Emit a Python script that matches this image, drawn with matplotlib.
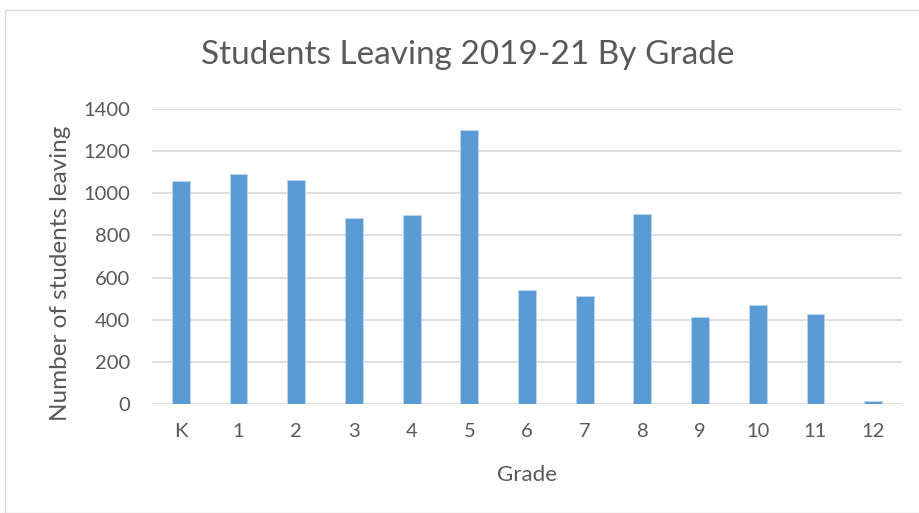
import numpy as np
import matplotlib.pyplot as plt
from matplotlib.patches import Rectangle

grades = ['K', '1', '2', '3', '4', '5', '6', '7', '8', '9', '10', '11', '12']
leaving = [1057, 1092, 1065, 881, 897, 1298, 543, 511, 900, 412, 470, 427, 13]
yticks = [0, 200, 400, 600, 800, 1000, 1200, 1400]

plt.rcParams['font.family'] = ['Lato', 'DejaVu Sans']
txt = '#595959'

fig = plt.figure(figsize=(9.2, 5.13), dpi=100)
# chart border
fig.patches.append(Rectangle((5/920, 0), 1, 1 - 10/513, transform=fig.transFigure,
                             fill=False, edgecolor='#d9d9d9', lw=1))
ax = fig.add_axes([152/920, 1 - 404/513, 750/920, 295/513])

x = np.arange(len(grades))
ax.bar(x, leaving, width=0.31, color='#5b9bd5', edgecolor='#bdd7ee', lw=0.6, zorder=3)
ax.set_xlim(-0.5, len(grades) - 0.5)
ax.set_ylim(0, 1400)
ax.set_yticks(yticks)
ax.set_xticks(x)
ax.set_xticklabels(grades)
ax.grid(axis='y', color='#d9d9d9', lw=1.2, zorder=0)
for s in ax.spines.values():
    s.set_visible(False)
ax.tick_params(length=0, colors=txt, labelsize=14.5)
ax.tick_params(axis='x', pad=14)
ax.tick_params(axis='y', pad=16)

ax.set_xlabel('Grade', color=txt, fontsize=16, labelpad=18)
ax.set_ylabel('Number of students leaving', color=txt, fontsize=17.5)
ax.yaxis.set_label_coords(-0.108, 0.444)
fig.text(468/920, 1 - 55/513, 'Students Leaving 2019-21 By Grade', ha='center', va='center',
         color=txt, fontsize=24)

fig.savefig('out.png', dpi=100)
